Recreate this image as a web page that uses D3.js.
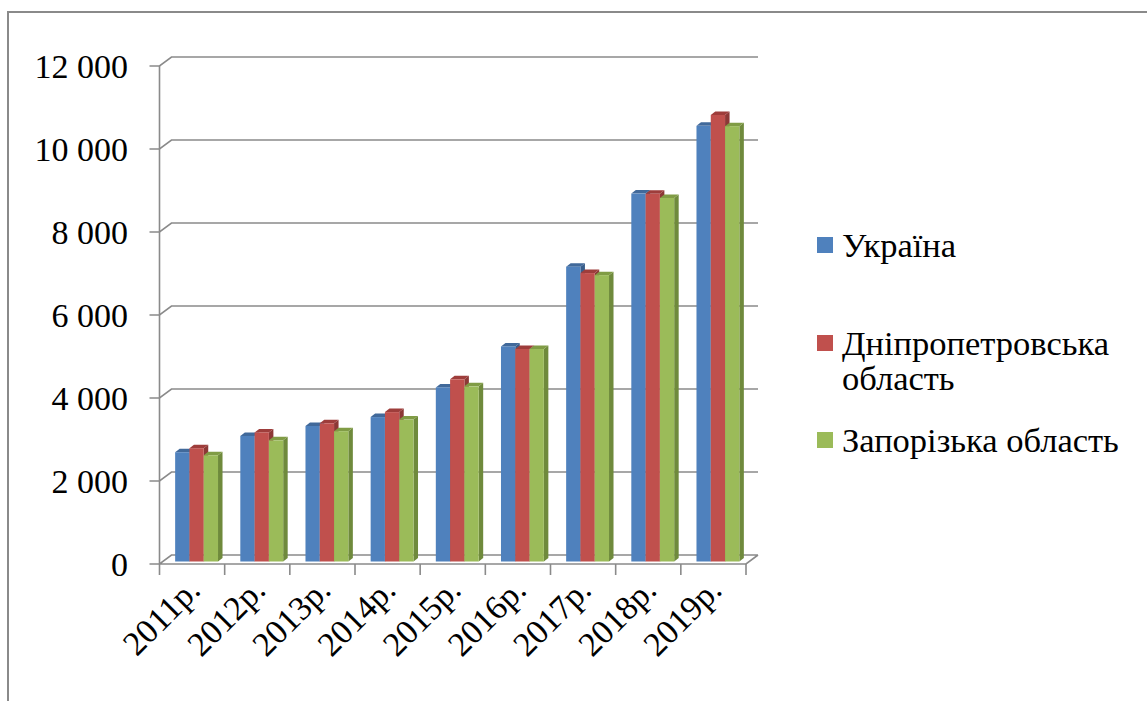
<!DOCTYPE html>
<html><head><meta charset="utf-8">
<script src="https://cdn.jsdelivr.net/npm/d3@7"></script>
<style>
html,body{margin:0;padding:0;background:#fff;}
#chart text{font-family:"Liberation Serif","Times New Roman",Tinos,serif !important;}
</style></head>
<body>
<svg id="chart" width="1147" height="701"></svg>
<script>
const categories = ["2011р.","2012р.","2013р.","2014р.","2015р.","2016р.","2017р.","2018р.","2019р."];
const seriesNames = ["Україна","Дніпропетровська область","Запорізька область"];
const ukraine = [2633, 3026, 3265, 3480, 4195, 5183, 7104, 8865, 10497];
const dnipro = [2730, 3110, 3330, 3600, 4390, 5120, 6950, 8860, 10760];
const zaporizhzhia = [2560, 2920, 3140, 3420, 4220, 5120, 6900, 8760, 10490];
const yTicks = [0, 2000, 4000, 6000, 8000, 10000, 12000];

const seriesValues = [ukraine, dnipro, zaporizhzhia];
const colors = ["#4F81BD", "#C0504D", "#9BBB59"];
const sideColors = ["#385D8A", "#8C3836", "#6F8A3C"];
const topColors = ["#41699A", "#9E3D3B", "#809C45"];
const FONT = '"Liberation Serif"';

const svg = d3.select("#chart");
const grid = "#8A8A8A";

svg.append("rect").attr("width",1147).attr("height",701).attr("fill","#fff");
svg.append("path").attr("d","M8,701 L8,12 L1147,12").attr("fill","none").attr("stroke",grid).attr("stroke-width",2);

const y = d3.scaleLinear().domain([0,12000]).range([564,66]);
const x0 = d3.scaleBand().domain(categories).range([159.5,746]).padding(0);
const x1 = d3.scaleBand().domain(seriesNames).range([0,x0.bandwidth()]).paddingInner(0).paddingOuter(0.78);

const DX = 12, DY = -9;
const xL = 159.5, xR = 746;

const g = svg.append("g");
yTicks.forEach(t => {
  const yy = y(t);
  g.append("path")
    .attr("d", `M${xL-10},${yy} L${xL},${yy} L${xL+DX},${yy+DY} L${xR+DX},${yy+DY}` + (t===0?` M${xL},${yy} L${xR},${yy} L${xR+DX},${yy+DY}`:""))
    .attr("fill","none").attr("stroke",grid).attr("stroke-width",1.6);
});
g.append("line").attr("x1",xL).attr("x2",xL).attr("y1",y(12000)).attr("y2",y(0)+11)
  .attr("stroke",grid).attr("stroke-width",1.6);
categories.forEach((c,i) => {
  const xx = x0(c) + x0.bandwidth();
  g.append("line").attr("x1",xx).attr("x2",xx).attr("y1",y(0)).attr("y2",y(0)+11)
    .attr("stroke",grid).attr("stroke-width",1.6);
});

const fmt = v => d3.format(",")(v).replace(/,/g," ");
svg.append("g").selectAll("text").data(yTicks).join("text")
  .attr("x",128).attr("y",d=>y(d)).attr("dy","0.35em")
  .attr("text-anchor","end").attr("font-size",34).style("font-family",FONT).attr("fill","#000")
  .text(fmt);

svg.append("g").selectAll("text").data(categories).join("text")
  .attr("transform", d => `translate(${x0(d)+x0.bandwidth()/2+10},${592}) rotate(-45)`)
  .attr("text-anchor","end").attr("font-size",34).style("font-family",FONT).attr("fill","#000")
  .text(d=>d);

const fx = 4.5, fy = -2.5;
const bdx = 4.5, bdy = -3.5;
const bars = svg.append("g");
categories.forEach((c,i) => {
  seriesNames.forEach((s,k) => {
    const v = seriesValues[k][i];
    const xa = x0(c) + x1(s) + fx;
    const w = x1.bandwidth();
    const yt = y(v) + fy, yb = y(0) + fy;
    bars.append("path").attr("d",`M${xa+w},${yb} L${xa+w+bdx},${yb+bdy} L${xa+w+bdx},${yt+bdy} L${xa+w},${yt} Z`)
      .attr("fill",sideColors[k]);
    bars.append("path").attr("d",`M${xa},${yt} L${xa+bdx},${yt+bdy} L${xa+w+bdx},${yt+bdy} L${xa+w},${yt} Z`)
      .attr("fill",topColors[k]);
    bars.append("rect").attr("x",xa).attr("y",yt).attr("width",w).attr("height",yb-yt)
      .attr("fill",colors[k]);
  });
});

const legendLines = [["Україна"],["Дніпропетровська","область"],["Запорізька область"]];
const legendY = [245, 343, 440];
const lg = svg.append("g");
legendLines.forEach((lines,k) => {
  lg.append("rect").attr("x",817).attr("y",legendY[k]-8).attr("width",16).attr("height",16).attr("fill",colors[k]);
  lines.forEach((t,j) => {
    lg.append("text").attr("x",842).attr("y",legendY[k]+j*35).attr("dy","0.35em")
      .attr("font-size",34.5).style("font-family",FONT).attr("fill","#000").text(t);
  });
});
</script>
</body></html>
